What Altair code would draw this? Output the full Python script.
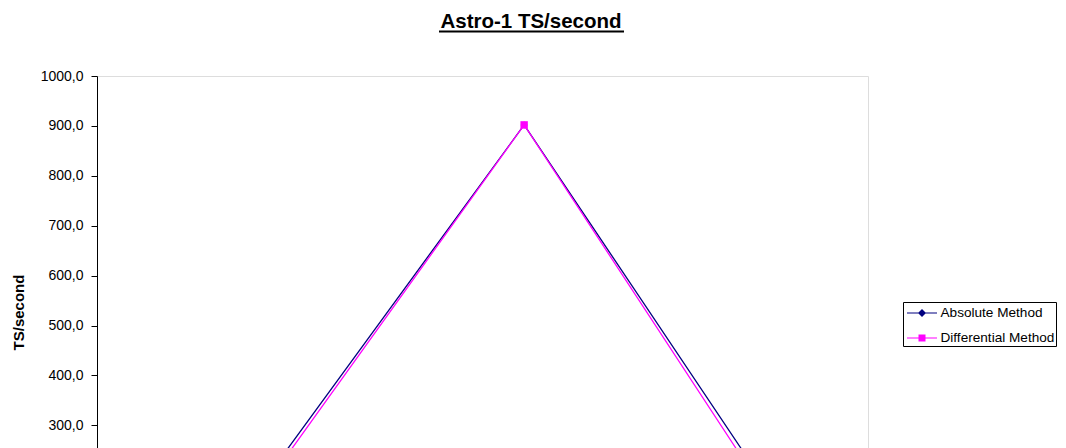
import altair as alt
import pandas as pd

# ---- data ----
series_names = ["Absolute Method", "Differential Method"]
series_colors = ["#000080", "#FF00FF"]
x_positions = [17.5, 55.4, 90.2]          # hidden horizontal positions of the samples
absolute_vals = [100.0, 902.0, 100.0]
differential_vals = [86.0, 902.0, 81.0]
y_ticks = [0, 100, 200, 300, 400, 500, 600, 700, 800, 900, 1000]
chart_title = "Astro-1 TS/second"
y_title = "TS/second"

rows = []
for xv, a, d in zip(x_positions, absolute_vals, differential_vals):
    rows.append({"x": xv, "value": a, "series": series_names[0]})
    rows.append({"x": xv, "value": d, "series": series_names[1]})
df = pd.DataFrame(rows)

FONT = "Liberation Sans"

x_enc = alt.X("x:Q", scale=alt.Scale(domain=[0, 100], nice=False, zero=False), axis=None)
y_enc = alt.Y(
    "value:Q",
    scale=alt.Scale(domain=[0, 1000], nice=False),
    axis=alt.Axis(
        values=y_ticks,
        labelExpr="replace(format(datum.value, '.1f'), '.', ',')",
        labelFont=FONT, labelFontSize=14, labelColor="black",
        labelPadding=8, tickSize=6, tickColor="black", domainColor="black",
        grid=False,
        title=y_title, titleFont=FONT, titleFontSize=15, titleFontWeight="bold",
        titleColor="black", titleX=-79, titleY=236, titleAngle=270,
        titleAlign="center", titleBaseline="middle",
    ),
)

base = alt.Chart(df)

abs_line = base.transform_filter(alt.datum.series == series_names[0]).mark_line(
    color=series_colors[0], strokeWidth=1.3).encode(x=x_enc, y=y_enc)
dif_line = base.transform_filter(alt.datum.series == series_names[1]).mark_line(
    color=series_colors[1], strokeWidth=1.3).encode(x=x_enc, y=y_enc)
abs_pts = base.transform_filter(alt.datum.series == series_names[0]).mark_point(
    shape="diamond", filled=True, size=49, opacity=1, color=series_colors[0]).encode(x=x_enc, y=y_enc)
dif_pts = base.transform_filter(alt.datum.series == series_names[1]).mark_point(
    shape="square", filled=True, size=55, opacity=1, color=series_colors[1]).encode(x=x_enc, y=y_enc)

# legend symbols: line + marker drawn as one path (shifted right inside the legend box)
path_abs = "M-0.7,-0.05H2.3V0.05H-0.7Z M0.8,-0.4L1.2,0L0.8,0.4L0.4,0Z"
path_dif = "M-0.7,-0.05H2.3V0.05H-0.7Z M0.45,-0.35H1.15V0.35H0.45Z"

legend = alt.Legend(
    title=None, orient="none", legendX=806, legendY=226,
    strokeColor="black", fillColor="white", padding=1,
    symbolSize=400, symbolStrokeWidth=0, symbolOpacity=1,
    labelFont=FONT, labelFontSize=13.6, labelColor="black", labelOffset=16.5,
    rowPadding=8, cornerRadius=0,
)
legend_layer = base.transform_filter("false").mark_point(filled=True, opacity=1, strokeWidth=0).encode(
    x=x_enc, y=y_enc,
    color=alt.Color("series:N", scale=alt.Scale(domain=series_names, range=series_colors), legend=legend),
    shape=alt.Shape("series:N", scale=alt.Scale(domain=series_names, range=[path_abs, path_dif]), legend=legend),
)

deco = alt.Chart(pd.DataFrame({"t": [chart_title]}))
title_text = deco.mark_text(font=FONT, fontSize=20.5, fontWeight="bold", color="black",
                            align="center", baseline="alphabetic").encode(
    text="t:N", x=alt.value(434), y=alt.value(-48))
underline = deco.mark_rule(color="black", strokeWidth=2).encode(
    x=alt.value(342), x2=alt.value(527), y=alt.value(-44.5))

chart = alt.layer(abs_line, dif_line, abs_pts, dif_pts, legend_layer, title_text, underline).properties(
    width=771, height=499,
    autosize=alt.AutoSizeParams(type="none"),
    padding={"left": 89, "top": 68, "right": 190, "bottom": 40},
).configure_view(stroke="#707070", strokeWidth=1).configure(background="white")

chart.save("out.html", embed_options={"renderer": "svg", "actions": False})
